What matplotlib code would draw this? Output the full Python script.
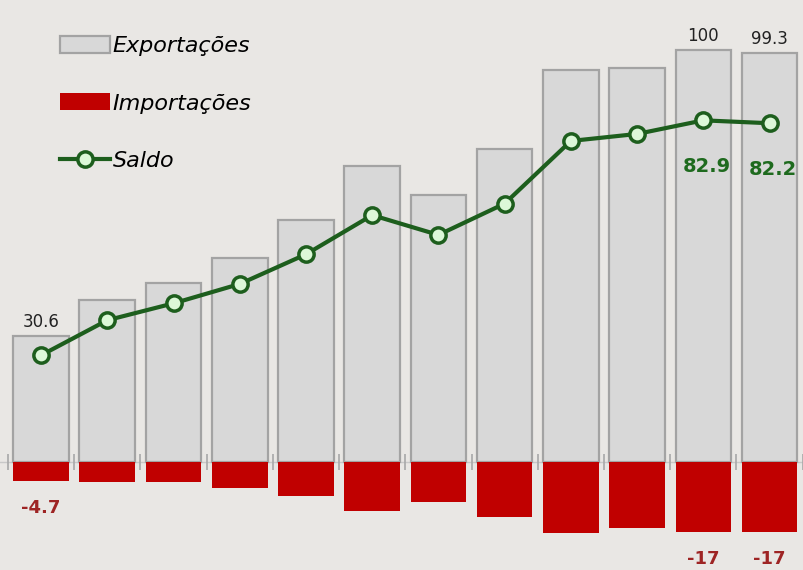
import numpy as np
import matplotlib; matplotlib.use("Agg")
import matplotlib.pyplot as plt

# dados (12 períodos)
exportacoes = [30.6, 39.2, 43.4, 49.5, 58.7, 71.8, 64.8, 76.0, 95.2, 95.6, 100.0, 99.3]
importacoes = [-4.7, -4.8, -4.9, -6.3, -8.3, -11.9, -9.7, -13.3, -17.3, -16.0, -17.1, -17.1]
saldo = [25.9, 34.4, 38.5, 43.2, 50.4, 59.9, 55.1, 62.7, 77.9, 79.6, 82.9, 82.2]
idx_exp_lbl = [0, 10, 11]
idx_imp_lbl = [0, 10, 11]
idx_sal_lbl = [10, 11]

BG = "#e9e7e4"
GRAY_FILL, GRAY_EDGE = "#d8d8d8", "#a3a3a3"
RED = "#c00000"
GREEN = "#1d5e1d"
FONT = ["DejaVu Sans"]

fig = plt.figure(figsize=(8.04, 5.7), dpi=100, facecolor=BG)
ax = fig.add_axes([0, 0, 1, 1])
ax.set_facecolor(BG)
x = np.arange(len(exportacoes))

b_exp = ax.bar(x, exportacoes, width=0.84, color=GRAY_FILL, edgecolor=GRAY_EDGE,
               lw=1.6, label="Exportações", zorder=2)
b_imp = ax.bar(x, importacoes, width=0.84, color=RED, edgecolor="none",
               label="Importações", zorder=2)
ln, = ax.plot(x, saldo, color=GREEN, lw=3, marker="o", ms=11, mfc="#dcf8d8",
              mec=GREEN, mew=2.5, label="Saldo", zorder=4)

# linha de base com marcas entre categorias
ax.axhline(0, color="#c8c8c8", lw=1, zorder=1)
ax.vlines(np.arange(-0.5, len(x)), -2, 2, color="#a8a8a8", lw=1.2, zorder=1)

for i in idx_exp_lbl:
    ax.annotate(f"{exportacoes[i]:g}", (x[i], exportacoes[i]), xytext=(0, 14),
                textcoords="offset pixels", ha="center", va="center",
                fontsize=12, color="#222222", family=FONT)
for i in idx_imp_lbl:
    ax.annotate(f"{importacoes[i]:.0f}" if i else f"{importacoes[i]:g}",
                (x[i], importacoes[i]), xytext=(0, -27),
                textcoords="offset pixels", ha="center", va="center",
                fontsize=13, fontweight="bold", color="#9e2424", family=FONT)
for i in idx_sal_lbl:
    ax.annotate(f"{saldo[i]:g}", (x[i], saldo[i]), xytext=(3, -46),
                textcoords="offset pixels", ha="center", va="center",
                fontsize=14, fontweight="bold", color="#1e6a1e", family=FONT)

ax.set_xlim(-0.62, 11.52)
ax.set_ylim(-26.2, 112.1)
ax.axis("off")

ax.legend([b_exp, b_imp, ln], ["Exportações", "Importações", "Saldo"],
          loc="upper left", bbox_to_anchor=(60 / 804, 1 - 36 / 570),
          frameon=False, prop={"family": FONT, "style": "italic", "size": 16},
          handlelength=2.25, handleheight=0.8, handletextpad=0.12,
          labelspacing=1.67, borderpad=0, borderaxespad=0)

fig.savefig("out.png", dpi=100, facecolor=BG)
